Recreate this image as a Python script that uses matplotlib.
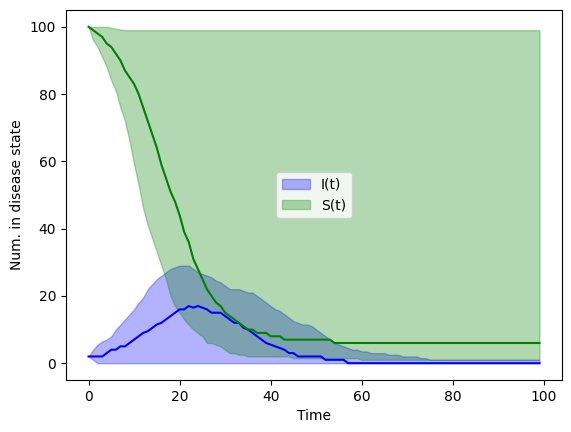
import numpy as np
import matplotlib
matplotlib.use("Agg")
import matplotlib.pyplot as plt

time = np.arange(100)

S_median = [100, 99, 98, 97, 95, 94, 92, 90, 87, 85,
            83, 80, 76, 72, 68, 64, 59, 55, 51, 48,
            44, 39, 36, 31, 28, 25, 22, 20, 18, 17,
            15, 14, 13, 12, 11, 10, 10, 9, 9, 9,
            8, 8, 8, 7, 7, 7, 7, 7, 7, 7,
            7, 7, 7, 7, 6] + [6] * 45

S_upper = [100, 100, 100, 100, 100, 99.7, 99.4, 99.2] + [99] * 92

S_lower = [100, 96, 94, 91, 88, 84, 81, 76, 72, 66,
           59, 53, 46, 41, 37, 33, 29, 25, 20, 17,
           15, 13, 11.5, 10, 9, 8, 6, 6, 5.5, 5,
           4, 3, 3, 2.5, 2.5] + [2] * 10 + [1.5] * 15 + [1] * 40

I_median = [2, 2, 2, 2, 3, 4, 4, 5, 5, 6,
            7, 8, 9, 9.5, 10.5, 11.5, 12, 13, 14, 15,
            16, 16, 17, 16.5, 17, 16.5, 16, 15, 15, 15,
            14, 13, 12, 12, 10.5, 10, 9, 8, 7, 6,
            5.5, 5, 4.5, 4, 3, 3, 2, 2, 2, 2,
            2, 2, 1, 1, 1, 1, 1] + [0] * 43

I_upper = [2, 4, 5.5, 6.5, 7, 8, 10, 11.5, 13, 14.5,
           16, 18, 19.5, 22, 23.5, 25, 26, 27, 28, 28.5,
           29, 29, 29, 28, 27, 26.5, 26, 25.5, 24.5, 24,
           23, 22, 22, 22, 21.5, 21, 21, 20, 19, 18,
           17, 16, 15.5, 14.5, 13.5, 12.5, 12, 11.5, 11.5, 11,
           10, 9, 8, 7, 6, 5.5, 5, 4.5, 4, 4,
           3.5, 3.5, 3, 3, 3, 3, 2.5, 2.5, 2.5, 2,
           2, 2, 2, 1.5, 1.5] + [1] * 25

I_lower = [2, 1] + [0] * 98

fig = plt.figure(figsize=(5.71, 4.32), dpi=100)
ax = fig.add_axes([66 / 571, 1 - 380 / 432, 496 / 571, 370 / 432])

ax.fill_between(time, I_lower, I_upper, color="blue", alpha=0.3, label="I(t)")
ax.fill_between(time, S_lower, S_upper, color="green", alpha=0.3, label="S(t)")
ax.plot(time, I_median, color="blue")
ax.plot(time, S_median, color="green")

ax.set_xlabel("Time")
ax.set_ylabel("Num. in disease state")
ax.legend(loc="center")

fig.savefig("out.png", dpi=100)
